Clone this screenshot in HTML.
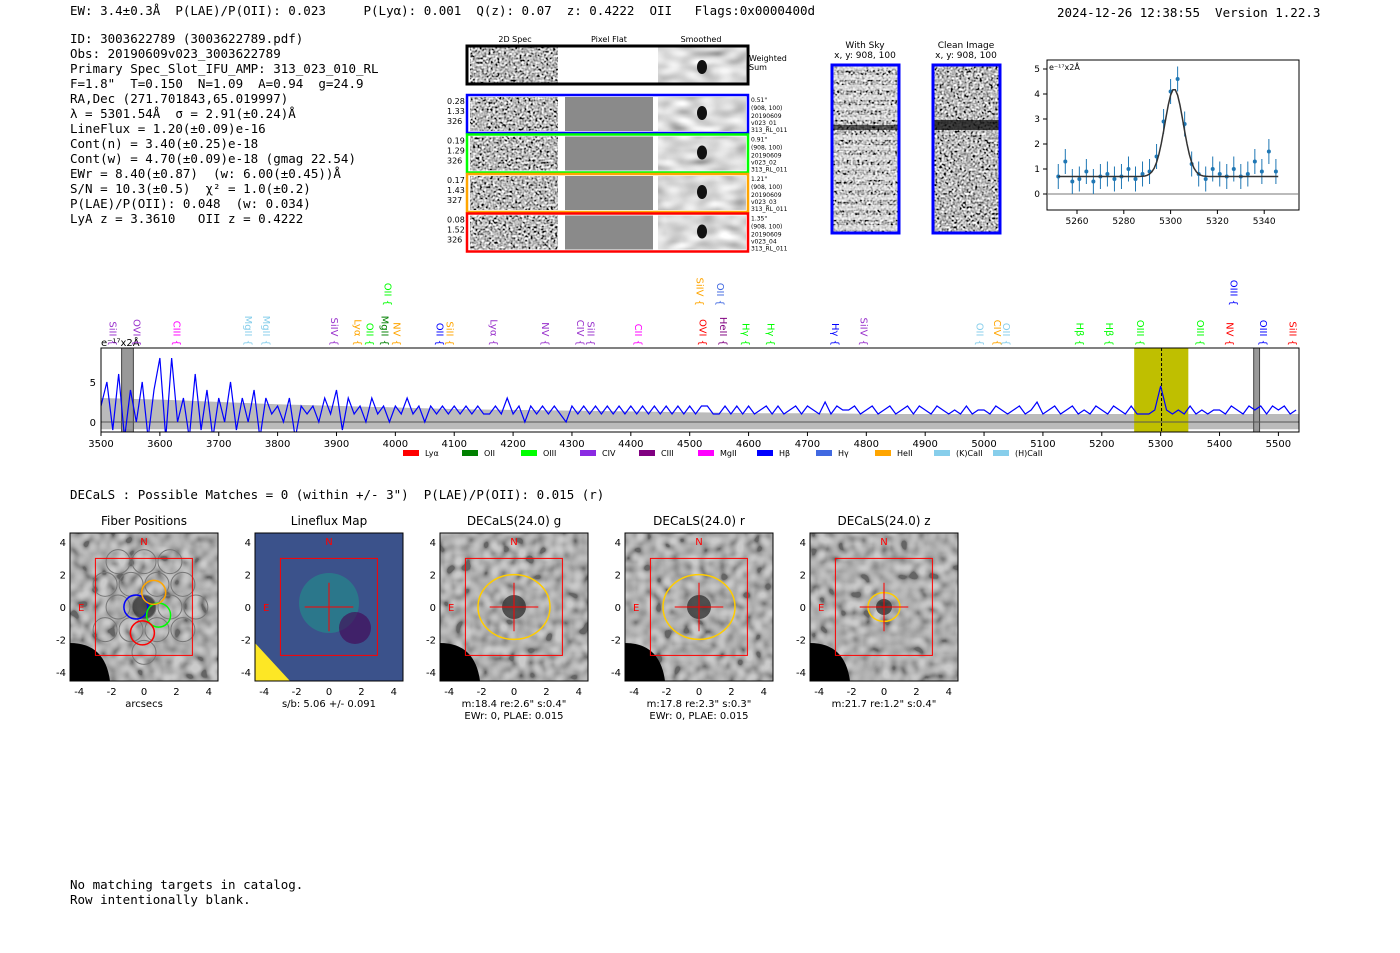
<!DOCTYPE html>
<html><head><meta charset="utf-8">
<style>
body{margin:0;background:#fff;width:1400px;height:953px;overflow:hidden;position:relative;font-family:"DejaVu Sans Mono","Liberation Mono",monospace;}
.t{position:absolute;white-space:pre;font-size:12.5px;color:#000;line-height:15px}
svg{position:absolute;left:0;top:0}
</style></head><body>
<div class="t" style="left:70px;top:3px">EW: 3.4±0.3Å  P(LAE)/P(OII): 0.023     P(Lyα): 0.001  Q(z): 0.07  z: 0.4222  OII   Flags:0x0000400d</div>
<div class="t" style="left:1057px;top:5px">2024-12-26 12:38:55  Version 1.22.3</div>
<div class="t" style="left:70px;top:31px">ID: 3003622789 (3003622789.pdf)
Obs: 20190609v023_3003622789
Primary Spec_Slot_IFU_AMP: 313_023_010_RL
F=1.8"  T=0.150  N=1.09  A=0.94  g=24.9
RA,Dec (271.701843,65.019997)
λ = 5301.54Å  σ = 2.91(±0.24)Å
LineFlux = 1.20(±0.09)e-16
Cont(n) = 3.40(±0.25)e-18
Cont(w) = 4.70(±0.09)e-18 (gmag 22.54)
EWr = 8.40(±0.87)  (w: 6.00(±0.45))Å
S/N = 10.3(±0.5)  χ² = 1.0(±0.2)
P(LAE)/P(OII): 0.048  (w: 0.034)
LyA z = 3.3610   OII z = 0.4222</div>
<div class="t" style="left:70px;top:487px">DECaLS : Possible Matches = 0 (within +/- 3")  P(LAE)/P(OII): 0.015 (r)</div>
<div class="t" style="left:70px;top:877px">No matching targets in catalog.
Row intentionally blank.</div>
<svg id="sv" width="1400" height="953">
<defs>
<filter id="nz" x="0" y="0" width="1" height="1" filterUnits="objectBoundingBox"><feTurbulence type="fractalNoise" baseFrequency="0.45" numOctaves="1" seed="4"/><feColorMatrix type="matrix" values="0.33 0.33 0.33 0 0 0.33 0.33 0.33 0 0 0.33 0.33 0.33 0 0 0 0 0 0 1"/><feComponentTransfer><feFuncR type="linear" slope="4" intercept="-1.5"/><feFuncG type="linear" slope="4" intercept="-1.5"/><feFuncB type="linear" slope="4" intercept="-1.5"/></feComponentTransfer></filter>
<filter id="nz2" x="0" y="0" width="1" height="1" filterUnits="objectBoundingBox"><feTurbulence type="fractalNoise" baseFrequency="0.11" numOctaves="1" seed="7"/><feColorMatrix type="matrix" values="0.33 0.33 0.33 0 0 0.33 0.33 0.33 0 0 0.33 0.33 0.33 0 0 0 0 0 0 1"/><feComponentTransfer><feFuncR type="linear" slope="4" intercept="-1.5"/><feFuncG type="linear" slope="4" intercept="-1.5"/><feFuncB type="linear" slope="4" intercept="-1.5"/></feComponentTransfer></filter>
<filter id="sm" x="0" y="0" width="1" height="1" filterUnits="objectBoundingBox"><feTurbulence type="fractalNoise" baseFrequency="0.06 0.12" numOctaves="1" seed="2"/><feColorMatrix type="matrix" values="0.33 0.33 0.33 0 0 0.33 0.33 0.33 0 0 0.33 0.33 0.33 0 0 0 0 0 0 1"/><feComponentTransfer><feFuncR type="linear" slope="1.6" intercept="-0.1"/><feFuncG type="linear" slope="1.6" intercept="-0.1"/><feFuncB type="linear" slope="1.6" intercept="-0.1"/></feComponentTransfer></filter>
<clipPath id="spclip"><rect x="101" y="348" width="1198" height="84"/></clipPath>
</defs></svg>
<script>
// spectrum data (flux e-17, 10A bins from 3500)
const specFlux=[2,5,-1,6,-2,4,0,5,-2,4, 8,-2,8,0,3,-2,6,-1,4,-2, 3,0,5,-1,3,0,4,-2,3,1, 2,0,3,-2,2,1,2,0,3,1, 4,-1,3,1,2,0,3,1,2,0, 2,1,3,1,2,0,2,1,2,1, 2,1,2,1,2,1,1,2,1,3, 1,2,0,2,1,2,1,2,1,0, 2,1,2,1,2,1,2,1,2,1, 2,1,2,1,2,1,2,1,2,1, 2,1,2,2,1,1,2,1,2,1, 2,1,1.5,2,1,2,1,1.5,2,1, 2,1.5,1,2.5,1,2,1.5,1.5,2,1, 1.5,2,1,1.5,2,1,1.5,2,1,2, 1.5,1,2,1.5,1,1.5,1,2,1,1.5, 1.5,1,2,1.5,1,1.5,2,1,1.5,2.5, 1,1.5,2,1,1.5,2,1,1.5,1,2, 1.5,1,2,1.5,1,2,1,1,1,1.5, 4.5,1.5,1,1.5,1,2,1,1.5,1,1.5, 1.5,1,2,1.5,1,2,1.5,2,1,2, 1.5,2,1,1.5];
const specErr=[3,2.8,2.5,2.2,2,1.8,1.6,1.5,1.4,1.3,1.2,1.1,1.1,1,1,1,1,1,1,1,1];
const insetX=[5252,5255,5258,5261,5264,5267,5270,5273,5276,5279,5282,5285,5288,5291,5294,5297,5300,5303,5306,5309,5312,5315,5318,5321,5324,5327,5330,5333,5336,5339,5342,5345];
const insetY=[0.7,1.3,0.5,0.6,0.9,0.5,0.7,0.8,0.6,0.7,1.0,0.6,0.8,0.9,1.5,2.9,4.1,4.6,2.8,1.2,0.8,0.6,1.0,0.8,0.7,1.0,0.7,0.8,1.3,0.9,1.7,0.9];
const specTicks=[3500,3600,3700,3800,3900,4000,4100,4200,4300,4400,4500,4600,4700,4800,4900,5000,5100,5200,5300,5400,5500];
const lineNames=["SiII","OVI","CIII","MgII","MgII","SiIV","Lyα","OII","MgII","NV","OII","SiII","Lyα","NV","CIV","SiII","CII","OVI","HeII","Hγ","Hγ","Hγ","SiIV","OII","CIV","OII","Hβ","Hβ","OIII","OIII","NV","OIII","SiII","OII","SiIV","OII","OIII"];
const lineWaves=[3508,3548,3616,3738,3768,3884,3924,3944,3970,3990,4063,4080,4155,4242,4302,4320,4400,4510,4545,4583,4625,4735,4783,4980,5010,5025,5150,5200,5253,5355,5405,5462,5512,3975,4505,4540,5412];
const lineRaised=[0,0,0,0,0,0,0,0,0,0,0,0,0,0,0,0,0,0,0,0,0,0,0,0,0,0,0,0,0,0,0,0,0,1,1,1,1];
const lineColors=["#9932cc","#9932cc","#ff00ff","#87ceeb","#87ceeb","#9932cc","#ffa500","#00ff00","#008000","#ffa500","#0000ff","#ffa500","#9932cc","#9932cc","#9932cc","#9932cc","#ff00ff","#ff0000","#800080","#00ff00","#00ff00","#0000ff","#9932cc","#87ceeb","#ffa500","#87ceeb","#00ff00","#00ff00","#00ff00","#00ff00","#ff0000","#0000ff","#ff0000","#00ff00","#ffa500","#4169e1","#0000ff"];
const sv=document.getElementById('sv');const NS='http://www.w3.org/2000/svg';
function mk(t,a,p){const e=document.createElementNS(NS,t);for(const k in a)e.setAttribute(k,a[k]);(p||sv).appendChild(e);return e;}
function tx(x,y,s,sz,extra){const e=mk('text',Object.assign({x:x,y:y,'font-size':sz||10,'font-family':'DejaVu Sans, Liberation Sans, sans-serif'},extra||{}));e.textContent=s;return e;}
const X=w=>101+(w-3500)*0.5887, Y=f=>422-f*8;
mk('rect',{x:101,y:348,width:1198,height:84,fill:'#fff'});
const cg=mk('g',{'clip-path':'url(#spclip)'});
let d='';specErr.forEach((e,i)=>d+=(i?' L':'M')+X(3500+i*102)+','+Y(e*1.0));
for(let i=specErr.length-1;i>=0;i--)d+=' L'+X(3500+i*102)+','+Y(-0.9);
const band=mk('path',{d:d+'Z',fill:'#bbb'},cg);
const hl=mk('rect',{x:X(5255),y:348,width:X(5347)-X(5255),height:84,fill:'#bfbf00'},cg);
mk('rect',{x:X(3535),y:348,width:X(3555)-X(3535),height:84,fill:'#999',stroke:'#444'},cg);
mk('rect',{x:X(5458),y:348,width:X(5468)-X(5458),height:84,fill:'#999',stroke:'#444'},cg);
mk('line',{x1:101,x2:1299,y1:Y(0),y2:Y(0),stroke:'#555'},cg);
mk('line',{x1:X(5301.5),x2:X(5301.5),y1:348,y2:432,stroke:'#000','stroke-dasharray':'3,2'},cg);
let p='';specFlux.forEach((f,i)=>p+=(i?' L':'M')+X(3500+i*10)+','+Y(f));
const sl=mk('path',{d:p,fill:'none',stroke:'#00f','stroke-width':1.2},cg);
mk('rect',{x:101,y:348,width:1198,height:84,fill:'none',stroke:'#000'});
specTicks.forEach(t=>{mk('line',{x1:X(t),x2:X(t),y1:432,y2:436,stroke:'#000'});tx(X(t),447,String(t),10,{'text-anchor':'middle'});});
[0,5].forEach(v=>{tx(96,Y(v)+4,String(v),10,{'text-anchor':'end'});});
tx(101,346,'e⁻¹⁷x2Å',10);
lineNames.forEach((n,i)=>{const y=lineRaised[i]?306:346;const g=tx(0,0,n+' {',10,{fill:lineColors[i],transform:'translate('+(X(lineWaves[i])+4)+','+y+') rotate(90)','text-anchor':'end'});});
const leg=[['Lyα','#f00'],['OII','#008000'],['OIII','#0f0'],['CIV','#8a2be2'],['CIII','#800080'],['MgII','#f0f'],['Hβ','#00f'],['Hγ','#4169e1'],['HeII','#ffa500'],['(K)CaII','#87ceeb'],['(H)CaII','#87ceeb']];
leg.forEach((l,i)=>{const x=403+i*59;mk('rect',{x:x,y:450,width:16,height:6,fill:l[1]});tx(x+22,456,l[0],8);});
const IX=w=>1077+(w-5260)*2.34, IY=f=>194-f*25;
mk('rect',{x:1047,y:60,width:252,height:150,fill:'#fff',stroke:'#000'});
mk('line',{x1:1047,x2:1299,y1:IY(0),y2:IY(0),stroke:'#777'});
[0,1,2,3,4,5].forEach(v=>{mk('line',{x1:1043,x2:1047,y1:IY(v),y2:IY(v),stroke:'#000'});tx(1040,IY(v)+3,String(v),9,{'text-anchor':'end'});});
[5260,5280,5300,5320,5340].forEach(v=>{mk('line',{x1:IX(v),x2:IX(v),y1:210,y2:214,stroke:'#000'});tx(IX(v),224,String(v),9,{'text-anchor':'middle'});});
tx(1049,70,'e⁻¹⁷x2Å',8);
insetX.forEach((x,i)=>{mk('line',{x1:IX(x),x2:IX(x),y1:IY(insetY[i]+0.5),y2:IY(insetY[i]-0.5),stroke:'#1f77b4'});const c=mk('circle',{cx:IX(x),cy:IY(insetY[i]),r:2,fill:'#1f77b4'});});
let fp='';for(let w=5252;w<=5346;w+=1){const f=0.7+3.5*Math.exp(-Math.pow((w-5301.5)/2.91,2)/2*0.55);fp+=(w==5252?'M':' L')+IX(w)+','+IY(f);}mk('path',{d:fp,fill:'none',stroke:'#333','stroke-width':1.5});
function noise(x,y,w,h){mk('rect',{x:x,y:y,width:w,height:h,fill:'#999',filter:'url(#nz)'});}
function smooth(x,y,w,h,cy){mk('rect',{x:x,y:y,width:w,height:h,fill:'#aaa',filter:'url(#sm)'});mk('ellipse',{cx:x+44,cy:cy,rx:5,ry:7,fill:'#111'});}
tx(515,42,'2D Spec',8,{'text-anchor':'middle'});tx(609,42,'Pixel Flat',8,{'text-anchor':'middle'});tx(701,42,'Smoothed',8,{'text-anchor':'middle'});
noise(470,47,88,36);smooth(658,47,88,36,67);
mk('rect',{x:467,y:46,width:281,height:38,fill:'none',stroke:'#000','stroke-width':3});tx(749,61,'Weighted',8);tx(749,70,'Sum',8);
const rowC=['#00f','#0f0','#ffa500','#f00'],rowL=[['0.28','1.33','326'],['0.19','1.29','326'],['0.17','1.43','327'],['0.08','1.52','326']],rowR=['0.51"','0.91"','1.21"','1.35"'];
for(let r=0;r<4;r++){const y=95+r*39.5;noise(470,y+2,88,34);mk('rect',{x:565,y:y+2,width:88,height:34,fill:'#8a8a8a'});smooth(658,y+2,88,34,y+18);
const b=mk('rect',{x:467,y:y,width:281,height:38,fill:'none',stroke:rowC[r],'stroke-width':2.5});
rowL[r].forEach((s,k)=>tx(447,y+9+k*10,s,8));tx(751,y+7,rowR[r],6);tx(751,y+15,'(908, 100)',6);tx(751,y+23,'20190609',6);tx(751,y+30,'v023_0'+(r+1),6);tx(751,y+37,'313_RL_011',6);}
tx(865,48,'With Sky',9,{'text-anchor':'middle'});tx(865,58,'x, y: 908, 100',9,{'text-anchor':'middle'});
tx(966,48,'Clean Image',9,{'text-anchor':'middle'});tx(966,58,'x, y: 908, 100',9,{'text-anchor':'middle'});
mk('rect',{x:832,y:65,width:67,height:168,fill:'#999',filter:'url(#nz)'});for(let j=0;j<168;j+=10)mk('rect',{x:832,y:65+j,width:67,height:5,fill:j==60?'#000':'#eee','fill-opacity':0.6});
mk('rect',{x:832,y:65,width:67,height:168,fill:'none',stroke:'#00f','stroke-width':3});
mk('rect',{x:933,y:65,width:67,height:168,fill:'#888',filter:'url(#nz)'});mk('rect',{x:933,y:120,width:67,height:10,fill:'#111','fill-opacity':0.8});mk('rect',{x:933,y:65,width:67,height:168,fill:'none',stroke:'#00f','stroke-width':3});
const titles=['Fiber Positions','Lineflux Map','DECaLS(24.0) g','DECaLS(24.0) r','DECaLS(24.0) z'];
const caps=[['arcsecs'],['s/b: 5.06 +/- 0.091'],['m:18.4  re:2.6"  s:0.4"','EWr: 0, PLAE: 0.015'],['m:17.8  re:2.3"  s:0.3"','EWr: 0, PLAE: 0.015'],['m:21.7  re:1.2"  s:0.4"']];
const px0=[70,255,440,625,810],ell=[40,36,36,36,16];
for(let k=0;k<5;k++){const x0=px0[k],y0=533,W=148,H=148,PX=v=>x0+74+v*16.2,PY=v=>y0+74-v*16.2;
const bg=mk('rect',{x:x0,y:y0,width:W,height:H,fill:k==1?'#3b528b':'#a8a8a8'});
if(k!=1)mk('rect',{x:x0,y:y0,width:W,height:H,fill:'#999',filter:'url(#nz2)',opacity:0.4});
if(k==1){mk('circle',{cx:x0+74,cy:y0+70,r:30,fill:'#21918c','fill-opacity':0.6});mk('path',{d:`M${x0},${y0+110} L${x0+35},${y0+148} L${x0},${y0+148}Z`,fill:'#fde725'});mk('circle',{cx:x0+100,cy:y0+95,r:16,fill:'#440154','fill-opacity':0.6});}
else{mk('path',{d:`M${x0},${y0+110} Q${x0+35},${y0+110} ${x0+40},${y0+148} L${x0},${y0+148}Z`,fill:'#000'});mk('circle',{cx:x0+74,cy:y0+74,r:k==4?8:12,fill:'#333','fill-opacity':0.8});}
if(k==0){[[0,0],[1.6,0],[-1.6,0],[0.8,1.4],[-0.8,1.4],[0.8,-1.4],[-0.8,-1.4],[2.4,1.4],[-2.4,1.4],[2.4,-1.4],[-2.4,-1.4],[0,2.8],[1.6,2.8],[-1.6,2.8],[0,-2.8],[3.2,0]].forEach(c=>mk('circle',{cx:PX(c[0]),cy:PY(c[1]),r:12,fill:'none',stroke:'#777'}));
[['#00f',-0.5,0],['#0f0',0.9,-0.5],['#ffa500',0.6,0.9],['#f00',-0.1,-1.6]].forEach(c=>mk('circle',{cx:PX(c[1]),cy:PY(c[2]),r:12,fill:'none',stroke:c[0],'stroke-width':1.5}));}
if(k>=2)mk('ellipse',{cx:PX(0),cy:PY(0),rx:ell[k],ry:ell[k]*0.9,fill:'none',stroke:'#fc0','stroke-width':1.5});
mk('rect',{x:PX(-3),y:PY(3),width:97,height:97,fill:'none',stroke:'#f00'});
if(k>=1){mk('line',{x1:PX(-1.5),x2:PX(1.5),y1:PY(0),y2:PY(0),stroke:'#f00'});mk('line',{x1:PX(0),x2:PX(0),y1:PY(-1.5),y2:PY(1.5),stroke:'#f00'});}
tx(PX(0),y0+12,'N',10,{fill:'#f00','text-anchor':'middle'});tx(x0+8,y0+78,'E',10,{fill:'#f00'});
mk('rect',{x:x0,y:y0,width:W,height:H,fill:'none',stroke:'#000'});
tx(x0+74,y0-8,titles[k],12,{'text-anchor':'middle'});
[-4,-2,0,2,4].forEach(v=>{tx(x0-4,PY(v)+4,String(v),10,{'text-anchor':'end'});tx(PX(v),y0+H+14,String(v),10,{'text-anchor':'middle'});});
caps[k].forEach((c,j)=>tx(x0+74,y0+H+26+j*12,c,10,{'text-anchor':'middle'}));}
</script>
</body></html>
